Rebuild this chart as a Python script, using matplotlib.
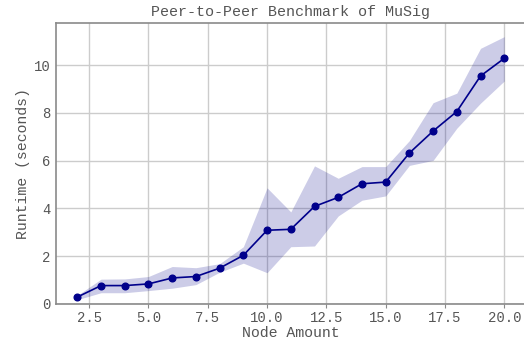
import numpy as np
import matplotlib.pyplot as plt

# ----------------------------
# Data
# ----------------------------
nodes = np.arange(2, 21)
runtime = [0.28, 0.76, 0.76, 0.83, 1.08, 1.14, 1.49, 2.03, 3.08, 3.12,
           4.08, 4.46, 5.03, 5.10, 6.32, 7.24, 8.06, 9.55, 10.29]
lower = [0.17, 0.46, 0.46, 0.55, 0.65, 0.80, 1.32, 1.70, 1.30, 2.39,
         2.42, 3.68, 4.34, 4.52, 5.80, 6.01, 7.36, 8.41, 9.34]
upper = [0.35, 1.03, 1.04, 1.14, 1.56, 1.51, 1.68, 2.39, 4.86, 3.85,
         5.78, 5.26, 5.75, 5.75, 6.84, 8.43, 8.83, 10.71, 11.20]

plt.rcParams['font.family'] = ['Liberation Mono', 'DejaVu Sans Mono']

fig = plt.figure(figsize=(5.24, 3.39), dpi=100)
ax = fig.add_axes([56 / 524, 35.3 / 339, 469.6 / 524, 280.4 / 339])

line_color = "#00008b"
text_color = "#555555"
spine_color = "#8a8a8a"

ax.fill_between(nodes, lower, upper, color=line_color, alpha=0.2, lw=0)
ax.plot(nodes, runtime, color=line_color, lw=1.2, marker="o", ms=4.8, zorder=3)

ax.set_xlim(1.1, 20.9)
ax.set_ylim(0, 11.76)
ax.set_xticks([2.5, 5.0, 7.5, 10.0, 12.5, 15.0, 17.5, 20.0])
ax.set_yticks([0, 2, 4, 6, 8, 10])

ax.grid(True, color="#cccccc", lw=1.0)
ax.set_axisbelow(True)

for side in ["left", "bottom", "top"]:
    ax.spines[side].set_color(spine_color)
    ax.spines[side].set_linewidth(1.2)
ax.spines["right"].set_visible(False)

ax.tick_params(axis="x", length=3, color=spine_color, labelsize=10,
               labelcolor=text_color, pad=2)
ax.tick_params(axis="y", length=0, labelsize=10, labelcolor=text_color, pad=4)

ax.set_xlabel("Node Amount", fontsize=10.7, color=text_color, labelpad=1)
ax.set_ylabel("Runtime (seconds)", fontsize=10.7, color=text_color, labelpad=3)
ax.set_title("Peer-to-Peer Benchmark of MuSig", fontsize=10.8,
             color=text_color, pad=5)

plt.savefig("out.png", dpi=100)
